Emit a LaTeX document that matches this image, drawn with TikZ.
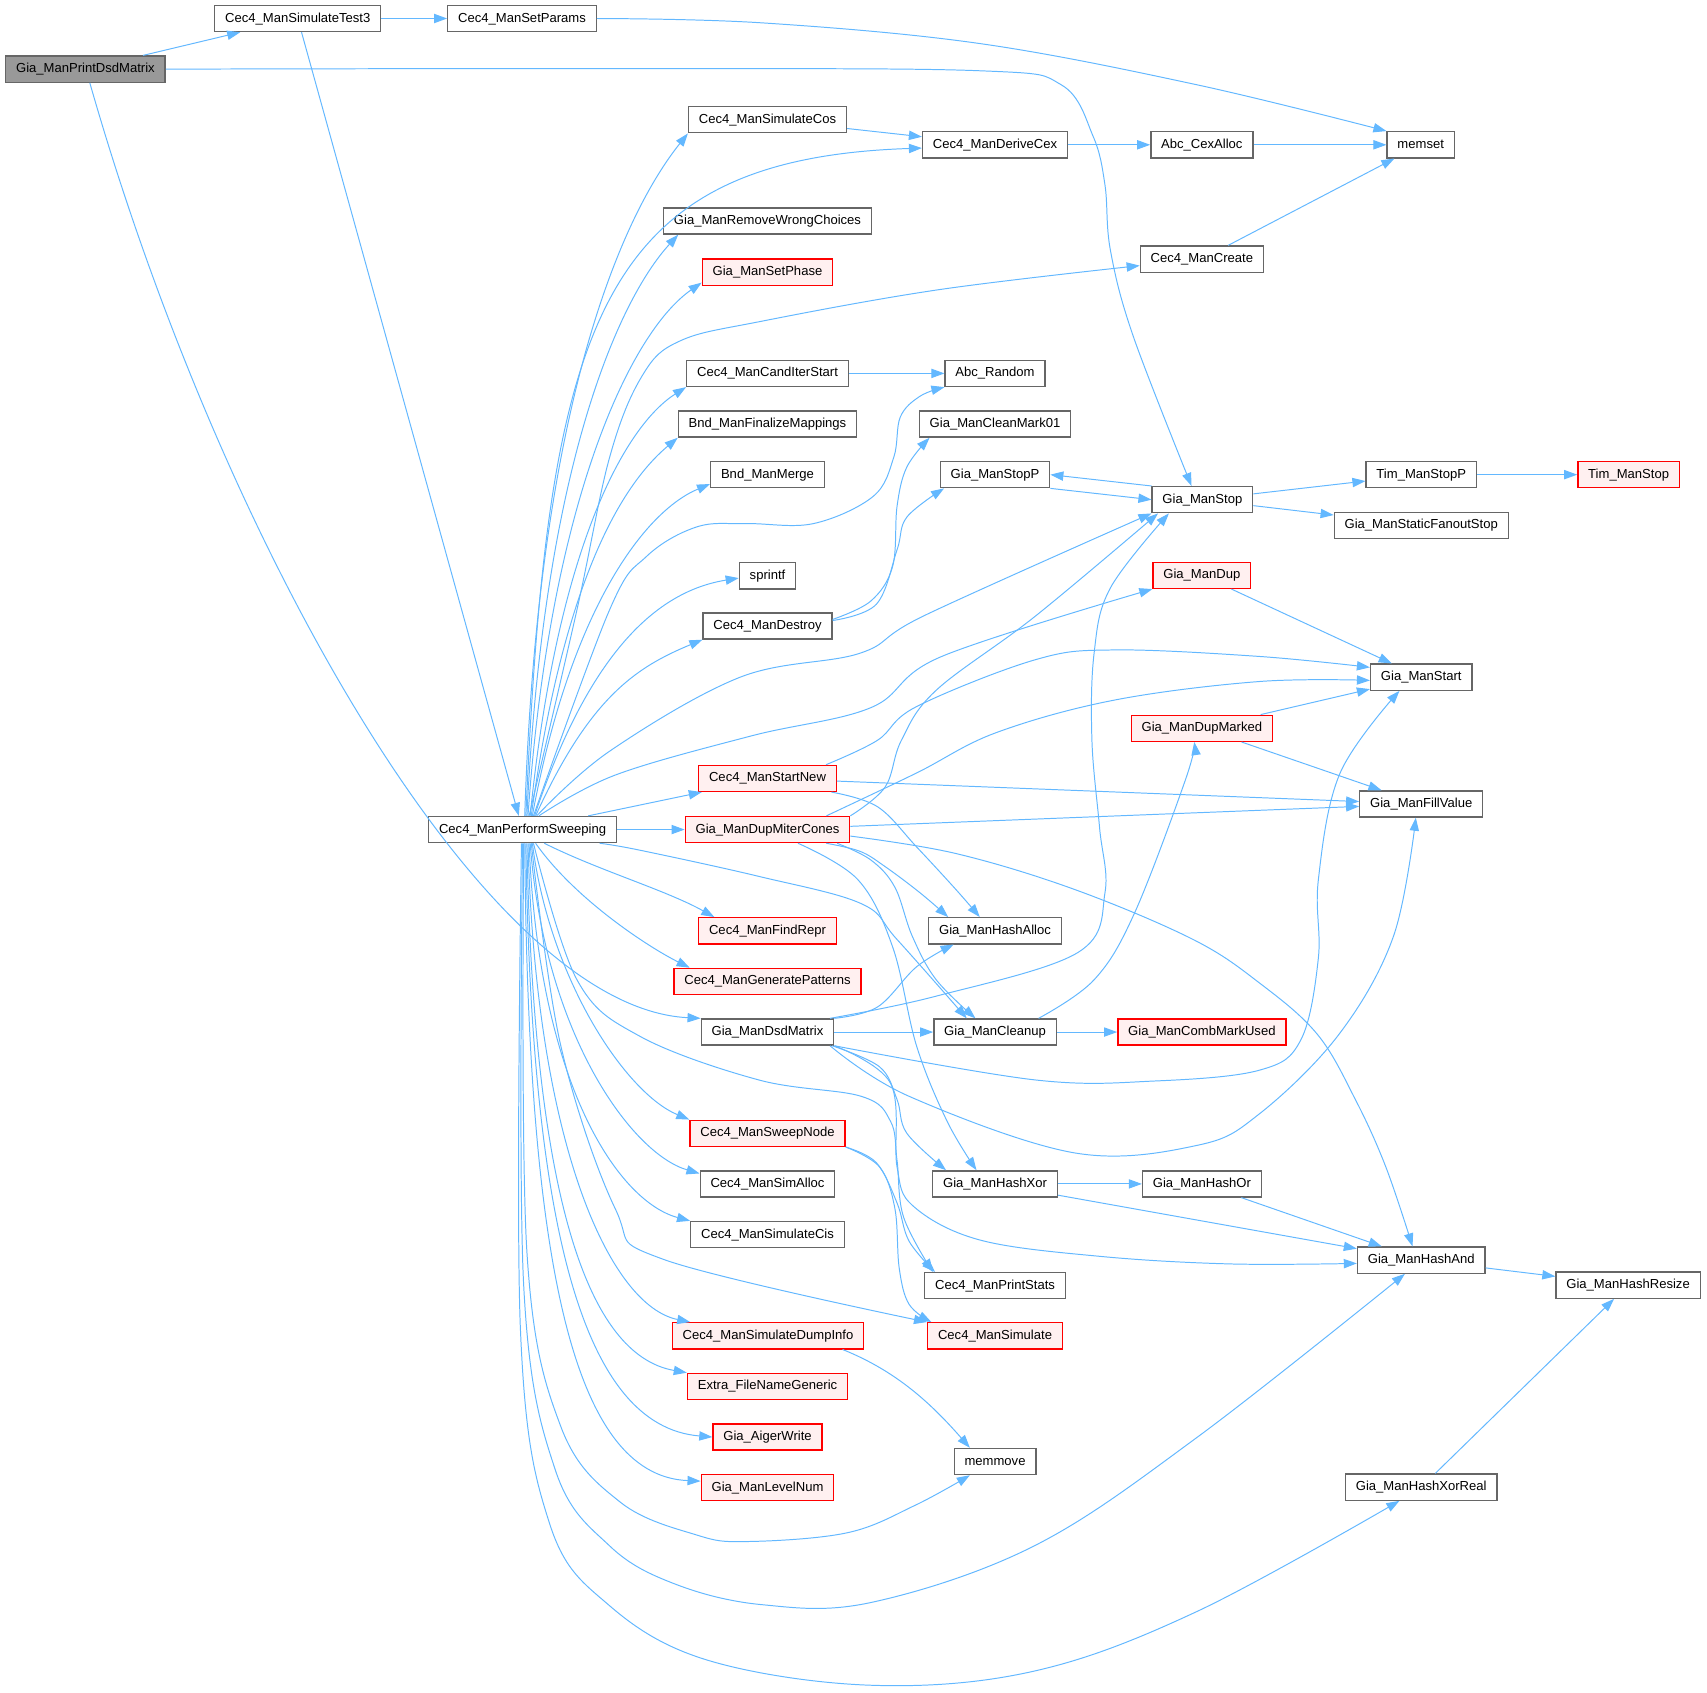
\documentclass[tikz,border=0pt]{standalone}
\usepackage{fontspec}
\setmainfont{Liberation Sans}
\usetikzlibrary{arrows.meta}
\definecolor{edgeblue}{HTML}{63B8FF}
\definecolor{boxgray}{HTML}{666666}
\definecolor{rootfill}{HTML}{999999}
\definecolor{hotred}{HTML}{FF0000}
\definecolor{hotfill}{HTML}{FFF0F0}

\begin{document}
\begin{tikzpicture}[x=1pt, y=-1pt, >={Triangle[length=12pt,width=8.5pt]},
  fn/.style={draw=boxgray, line width=1.2pt, fill=white, minimum height=24pt, inner xsep=9.5pt,
    text height=9pt, text depth=2.5pt, font=\fontsize{12}{14}\selectfont},
  hot/.style={fn, draw=hotred, fill=hotfill},
  root/.style={fn, fill=rootfill},
  call/.style={->, draw=edgeblue, line width=0.9pt}]
\path[use as bounding box, fill=white] (0,0) rectangle (1568,1555);

% functions
\node[root] (pdm) at (78.5,63.5) {Gia\_ManPrintDsdMatrix};
\node[fn] (st3) at (273.5,17) {Cec4\_ManSimulateTest3};
\node[fn] (setp) at (479.5,17) {Cec4\_ManSetParams};
\node[fn] (memset) at (1305,133) {memset};
\node[fn] (ps) at (480,762) {Cec4\_ManPerformSweeping};
\node[fn] (simcos) at (705,110) {Cec4\_ManSimulateCos};
\node[fn] (dcex) at (914,133) {Cec4\_ManDeriveCex};
\node[fn] (cexal) at (1104,133) {Abc\_CexAlloc};
\node[fn] (rwc) at (705,203) {Gia\_ManRemoveWrongChoices};
\node[hot] (setph) at (705,250) {Gia\_ManSetPhase};
\node[fn] (create) at (1104,238) {Cec4\_ManCreate};
\node[fn] (cand) at (705,343) {Cec4\_ManCandIterStart};
\node[fn] (rnd) at (914,343) {Abc\_Random};
\node[fn] (bndfin) at (705,389.5) {Bnd\_ManFinalizeMappings};
\node[fn] (clean01) at (914,389.5) {Gia\_ManCleanMark01};
\node[fn] (bndm) at (705,436) {Bnd\_ManMerge};
\node[fn] (stopp) at (914,436) {Gia\_ManStopP};
\node[fn] (gstop) at (1104.5,459) {Gia\_ManStop};
\node[fn] (timp) at (1305.5,436) {Tim\_ManStopP};
\node[hot] (tims) at (1496,436) {Tim\_ManStop};
\node[fn] (sfo) at (1305.5,482.5) {Gia\_ManStaticFanoutStop};
\node[fn] (sprt) at (705,529) {sprintf};
\node[fn] (destroy) at (705,575) {Cec4\_ManDestroy};
\node[hot] (gdup) at (1104,528.5) {Gia\_ManDup};
\node[fn] (gstart) at (1305.5,622) {Gia\_ManStart};
\node[hot] (dupm) at (1104,669) {Gia\_ManDupMarked};
\node[hot] (startn) at (705,715) {Cec4\_ManStartNew};
\node[hot] (dmc) at (705,762) {Gia\_ManDupMiterCones};
\node[fn] (fill) at (1305.5,738.5) {Gia\_ManFillValue};
\node[hot] (frepr) at (705,855) {Cec4\_ManFindRepr};
\node[fn] (halloc) at (914,855) {Gia\_ManHashAlloc};
\node[hot] (genp) at (705,901.5) {Cec4\_ManGeneratePatterns};
\node[fn] (dsd) at (705,948) {Gia\_ManDsdMatrix};
\node[fn] (cleanup) at (914,948) {Gia\_ManCleanup};
\node[hot] (comb) at (1104,948) {Gia\_ManCombMarkUsed};
\node[hot] (sweep) at (705,1041) {Cec4\_ManSweepNode};
\node[fn] (simal) at (705,1087.5) {Cec4\_ManSimAlloc};
\node[fn] (hxor) at (914,1087.5) {Gia\_ManHashXor};
\node[fn] (hor) at (1104,1087.5) {Gia\_ManHashOr};
\node[fn] (simcis) at (705,1134) {Cec4\_ManSimulateCis};
\node[fn] (hand) at (1305.5,1157.5) {Gia\_ManHashAnd};
\node[fn] (hres) at (1495.5,1180.5) {Gia\_ManHashResize};
\node[fn] (pstats) at (914,1181) {Cec4\_ManPrintStats};
\node[hot] (dump) at (705.5,1227) {Cec4\_ManSimulateDumpInfo};
\node[hot] (sim) at (914,1227) {Cec4\_ManSimulate};
\node[hot] (fname) at (705,1273.5) {Extra\_FileNameGeneric};
\node[hot] (aiger) at (705,1320) {Gia\_AigerWrite};
\node[hot] (lvl) at (705,1366.5) {Gia\_ManLevelNum};
\node[fn] (memmove) at (914,1342.5) {memmove};
\node[fn] (hxr) at (1305.5,1366) {Gia\_ManHashXorReal};

% root calls
\draw[call] (pdm) -- (st3);
\draw[call] plot[smooth, tension=.6] coordinates {(pdm.east) (600,63) (900,65) (975,78) (1004,125) (1015,170) (1020,230) (1041,309) ([xshift=-10pt]gstop.north)};
\draw[call] ([xshift=4pt]pdm.south) .. controls +(120,420) and +(-200,-10) .. (dsd.north west);
\draw[call] (st3) -- (setp);
\draw[call] (st3) -- (ps);
\draw[call] plot[smooth, tension=.6] coordinates {(setp.east) (700,21) (900,40) (1100,78) (memset.north west)};

% sweeping, upper fan
\draw[call] ([xshift=2pt]ps.north) .. controls +(12,-380) and +(-60,75) .. (simcos.south west);
\draw[call] ([xshift=3pt]ps.north) .. controls +(20,-450) and +(-300,10) .. ([yshift=-3pt]dcex.west);
\draw[call] ([xshift=4pt]ps.north) .. controls +(15,-320) and +(-55,60) .. ([xshift=14pt]rwc.south west);
\draw[call] ([xshift=5pt]ps.north) .. controls +(20,-290) and +(-65,45) .. ([yshift=3pt]setph.south west);
\draw[call] plot[smooth, tension=.6] coordinates {([xshift=6pt]ps.north) (530,560) (560,420) (590,345) (625,313) (700,295) (863,266) ([yshift=-6pt]create.west)};
\draw[call] ([xshift=7pt]ps.north) .. controls +(25,-250) and +(-55,35) .. (cand.south west);
\draw[call] ([xshift=8pt]ps.north) .. controls +(30,-220) and +(-50,42) .. (bndfin.south west);
\draw[call] ([xshift=9pt]ps.north) .. controls +(35,-190) and +(-60,25) .. ([yshift=4pt]bndm.south west);
\draw[call] plot[smooth, tension=.6] coordinates {([xshift=10pt]ps.north) (560,560) (594,511) (640,484) (686,481) (747,481) (802,456) (821,420) (827,383) (845,364) (rnd.south west)};
\draw[call] ([xshift=11pt]ps.north) .. controls +(50,-150) and +(-75,12) .. ([yshift=-2pt]sprt.west);
\draw[call] ([xshift=12pt]ps.north) .. controls +(50,-110) and +(-60,25) .. (destroy.south west);
\draw[call] plot[smooth, tension=.6] coordinates {([xshift=13pt]ps.north) (560,690) (680,622) (790,600) (850,565) (gstop.south west)};
\draw[call] plot[smooth, tension=.6] coordinates {([xshift=15pt]ps.north) (565,712) (690,676) (800,650) (865,603) (gdup.south west)};
\draw[call] (ps) -- (startn);
\draw[call] (ps) -- (dmc);

% sweeping, lower fan
\draw[call] plot[smooth, tension=.6] coordinates {([xshift=-16pt]ps.south east) (588,781) (697,805) (791,830) (824,863) ([xshift=-26pt]cleanup.north)};
\draw[call] ([xshift=20pt]ps.south) .. controls +(50,25) and +(-45,-25) .. ([xshift=15pt]frepr.north west);
\draw[call] ([xshift=12pt]ps.south) .. controls +(35,50) and +(-40,-20) .. ([xshift=15pt]genp.north west);
\draw[call] ([xshift=9pt]ps.south) .. controls +(16,126) and +(-58,-24) .. (sweep.north west);
\draw[call] ([xshift=7pt]ps.south) .. controls +(13,176) and +(-62,-18) .. ([yshift=-3pt]simal.north west);
\draw[call] ([xshift=6pt]ps.south) .. controls +(9,226) and +(-64,-17) .. (simcis.north west);
\draw[call] ([xshift=5pt]ps.south) .. controls +(7,276) and +(-74,-15) .. ([xshift=17pt]dump.north west);
\draw[call] ([xshift=4pt]ps.south) .. controls +(6,326) and +(-91,-16) .. (fname.north west);
\draw[call] ([xshift=3pt]ps.south) .. controls +(5,350) and +(-120,-10) .. (aiger.west);
\draw[call] ([xshift=2pt]ps.south) .. controls +(3,376) and +(-120,-5) .. ([yshift=6pt]lvl.west);
\draw[call] plot[smooth, tension=.6] coordinates {([xshift=1pt]ps.south) (484,1150) (515,1310) (570,1380) (640,1410) (686,1416) (778,1408) (840,1383) ([xshift=15pt]memmove.south west)};
\draw[call] plot[smooth, tension=.6] coordinates {(ps.south) (481,1180) (510,1350) (560,1420) (620,1455) (700,1474) (800,1472) (950,1420) (1100,1320) ([xshift=-15pt]hand.south)};
\draw[call] plot[smooth, tension=.6] coordinates {([xshift=-1pt]ps.south) (478,1220) (505,1400) (560,1475) (650,1525) (800,1548) (950,1535) (1100,1480) ([xshift=-20pt]hxr.south)};
\draw[call] plot[smooth, tension=.6] coordinates {([xshift=10pt]ps.south) (530,900) (588,952) (697,992) (791,1007) (818,1030) (824,1066) (830,1118) ([xshift=8pt]pstats.north west)};
\draw[call] plot[smooth, tension=.6] coordinates {([xshift=8pt]ps.south) (515,960) (565,1110) (610,1157) (sim.north west)};

% second level
\draw[call] (simcos) -- (dcex);
\draw[call] (dcex) -- (cexal);
\draw[call] (cexal) -- (memset);
\draw[call] (create) -- (memset);
\draw[call] (cand) -- (rnd);
\draw[call] plot[smooth, tension=.6] coordinates {([yshift=6pt]destroy.east) (800,552) (820,520) (824,465) (833,429) ([xshift=10pt]clean01.south west)};
\draw[call] plot[smooth, tension=.6] coordinates {([yshift=5pt]destroy.east) (805,555) (824,505) (833,475) ([xshift=4pt]stopp.south west)};
\draw[call] (stopp.south east) -- (gstop.west);
\draw[call] (gstop.north west) -- (stopp.east);
\draw[call] (gstop) -- (timp);
\draw[call] (gstop) -- (sfo);
\draw[call] (timp) -- (tims);
\draw[call] (gdup) -- (gstart);
\draw[call] (dupm) -- (gstart);
\draw[call] (dupm) -- (fill);
\draw[call] (startn) -- (fill);
\draw[call] plot[smooth, tension=.6] coordinates {([xshift=-10pt]startn.north east) (806,680) (842,649) (951,606) (1024,597) (1157,603) ([yshift=9pt]gstart.west)};
\draw[call] plot[smooth, tension=.6] coordinates {([xshift=-5pt]startn.south east) (806,741) (842,778) (878,817) ([xshift=-14pt]halloc.north)};
\draw[call] (dmc) -- (fill);
\draw[call] plot[smooth, tension=.6] coordinates {(dmc.north east) (813,723) (828,680) (860,634) (951,566) ([xshift=6pt]gstop.south west)};
\draw[call] plot[smooth, tension=.6] coordinates {([xshift=-22pt]dmc.north east) (842,710) (915,673) (1024,643) (1157,626) ([yshift=-3pt]gstart.west)};
\draw[call] plot[smooth, tension=.6] coordinates {([xshift=54pt]dmc.south) (790,782) (813,796) (845,820) ([xshift=-43pt]halloc.north)};
\draw[call] plot[smooth, tension=.6] coordinates {([xshift=64pt]dmc.south) (800,790) (822,815) (838,860) (860,900) ([xshift=-18pt]cleanup.north)};
\draw[call] plot[smooth, tension=.6] coordinates {([xshift=28pt]dmc.south) (788,808) (820,870) (842,961) (870,1030) ([xshift=-17pt]hxor.north)};
\draw[call] plot[smooth, tension=.6] coordinates {([yshift=-6pt]dmc.east) (878,784) (987,817) (1096,863) (1157,903) (1210,950) (1245,1010) (1273,1072) ([xshift=-8pt]hand.north)};

% dsd matrix
\draw[call] plot[smooth, tension=.6] coordinates {(dsd.north east) (806,925) (842,888) ([xshift=-38pt]halloc.south)};
\draw[call] plot[smooth, tension=.6] coordinates {([xshift=-4pt]dsd.north east) (860,915) (990,875) (1015,820) (1010,760) (1003,680) (1005,600) (1020,540) ([xshift=16pt]gstop.south west)};
\draw[call] (dsd) -- (cleanup);
\draw[call] plot[smooth, tension=.6] coordinates {(dsd.south east) (951,992) (1060,993) (1157,983) (1195,955) (1211,880) (1211,808) (1231,710) ([xshift=-20pt]gstart.south)};
\draw[call] plot[smooth, tension=.6] coordinates {([xshift=-4pt]dsd.south east) (835,1007) (987,1059) (1100,1052) (1157,1023) (1230,950) (1280,860) ([xshift=-5pt]fill.south)};
\draw[call] plot[smooth, tension=.6] coordinates {([xshift=-2pt]dsd.south east) (808,980) (824,1010) (833,1041) ([xshift=-45pt]hxor.north)};
\draw[call] plot[smooth, tension=.6] coordinates {(dsd.south east) (818,995) (824,1072) (839,1108) (900,1139) (1010,1154) (1130,1161) ([yshift=-3pt]hand.west)};

% cleanup and hashing
\draw[call] (cleanup) -- (comb);
\draw[call] plot[smooth, tension=.6] coordinates {([xshift=40pt]cleanup.north) (1005,900) (1042,839) (1089,716) ([xshift=-7pt]dupm.south)};
\draw[call] (hxor) -- (hor);
\draw[call] (hxor) -- (hand);
\draw[call] (hor) -- (hand);
\draw[call] (hand) -- (hres);
\draw[call] (hxr) -- (hres);

% sweep node, dump
\draw[call] plot[smooth, tension=.6] coordinates {(sweep.south east) (805,1068) (824,1105) (835,1140) ([xshift=10pt]pstats.north west)};
\draw[call] plot[smooth, tension=.6] coordinates {(sweep.south east) (808,1072) (822,1110) (826,1165) (835,1198) ([xshift=4pt]sim.north west)};
\draw[call] ([xshift=-20pt]dump.south east) .. controls +(50,20) and +(-35,-40) .. ([xshift=15pt]memmove.north west);
\end{tikzpicture}
\end{document}
